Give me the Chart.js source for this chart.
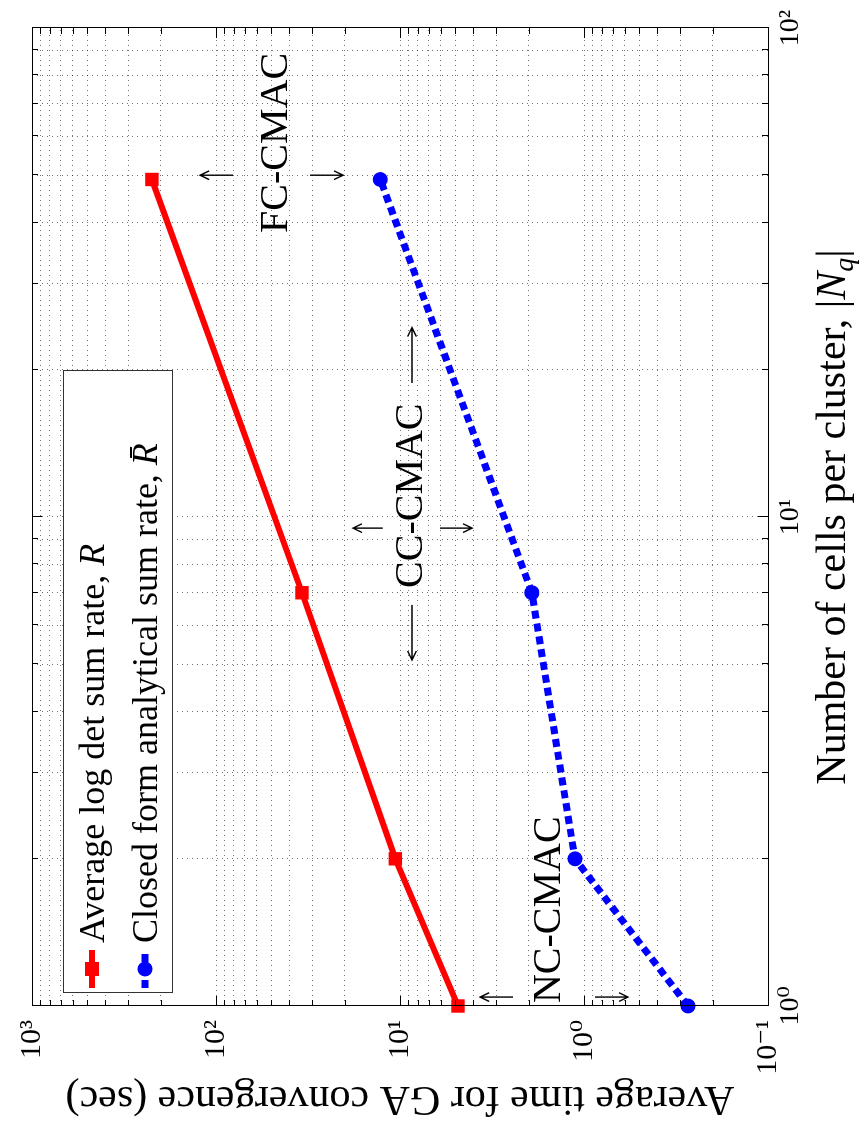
<!DOCTYPE html>
<html><head><meta charset="utf-8">
<script src="https://cdn.jsdelivr.net/npm/chart.js@4.4.1/dist/chart.umd.min.js"></script>
<style>
html,body{margin:0;padding:0;background:#fff;width:864px;height:1123px;overflow:hidden;}
#wrap{position:absolute;left:0;top:0;width:1123px;height:864px;transform-origin:0 0;transform:translate(0,1123px) rotate(-90deg);background:#fff;}
canvas{display:block}
</style></head><body>
<div id="wrap"><canvas id="c" width="1123" height="864"></canvas></div>
<script>
// ---- data ----
const cellsPerCluster = [1, 2, 7, 49];
const logdetTime = [4.84, 10.6, 34.1, 223];
const closedFormTime = [0.272, 1.12, 1.92, 12.8];
const xTickValues = [1,2,3,4,5,6,7,8,9,10,20,30,40,50,60,70,80,90,100];
const yTickValues = [0.1,0.2,0.3,0.4,0.5,0.6,0.7,0.8,0.9,1,2,3,4,5,6,7,8,9,10,20,30,40,50,60,70,80,90,100,200,300,400,500,600,700,800,900,1000];
const xMajorValues = [1, 10, 100];
const xTickLabels = ['10\u2070', '10\u00b9', '10\u00b2'];
const yMajorValues = [0.1, 1, 10, 100, 1000];
const yTickLabels = ['10\u207b\u00b9', '10\u2070', '10\u00b9', '10\u00b2', '10\u00b3'];
const seriesNames = ['Average log det sum rate, R', 'Closed form analytical sum rate, R\u0304'];
const yAxisTitle = 'Average time for GA convergence (sec)';
const xAxisTitleText = 'Number of cells per cluster, ';
const regionNames = ['NC-CMAC', 'CC-CMAC', 'FC-CMAC'];

const SERIF = "'Liberation Serif','DejaVu Serif',serif";
Chart.defaults.font.family = SERIF;
Chart.defaults.color = '#000';

const isMajor = (v, majors) => majors.findIndex(m => Math.abs(m - v) / m < 1e-9);

// annotation anchors in data coordinates
const annotations = [
  { text: regionNames[0], x: 1.014, y: 1.35,
    arrows: [[1.043, 2.43, 1.043, 3.67], [1.043, 0.871, 1.043, 0.577]] },
  { text: regionNames[1], x: 7.16, y: 7.59,
    arrows: [[18.8, 8.61, 24.4, 8.61], [6.61, 8.61, 5.10, 8.61], [9.49, 12.4, 9.49, 18.0], [9.49, 6.06, 9.49, 4.06]] },
  { text: regionNames[2], x: 38.1, y: 41.1,
    arrows: [[50, 80.8, 50, 122], [50, 30.8, 50, 20.4]] }
];

function arrow(ctx, x1, y1, x2, y2) {
  const ang = Math.atan2(y2 - y1, x2 - x1);
  const h = 10, a = 0.45;
  ctx.beginPath();
  ctx.moveTo(x1, y1); ctx.lineTo(x2, y2);
  ctx.moveTo(x2 - h * Math.cos(ang - a), y2 - h * Math.sin(ang - a));
  ctx.lineTo(x2, y2);
  ctx.lineTo(x2 - h * Math.cos(ang + a), y2 - h * Math.sin(ang + a));
  ctx.stroke();
}

function drawRuns(ctx, runs, x, y) {
  let cx = x;
  runs.forEach(r => {
    ctx.font = r.font;
    ctx.fillText(r.text, cx, y + (r.dy || 0));
    cx += ctx.measureText(r.text).width;
  });
  return cx - x;
}

const decorations = {
  id: 'decorations',
  afterDatasetsDraw(chart) {
    const { ctx, chartArea: a, scales: { x, y } } = chart;
    ctx.save();
    // annotations
    ctx.fillStyle = '#000';
    ctx.strokeStyle = '#000';
    ctx.lineWidth = 1.4;
    ctx.textBaseline = 'alphabetic';
    ctx.textAlign = 'left';
    annotations.forEach(an => {
      ctx.font = '40px ' + SERIF;
      ctx.fillText(an.text, x.getPixelForValue(an.x), y.getPixelForValue(an.y));
      an.arrows.forEach(ar => arrow(ctx, x.getPixelForValue(ar[0]), y.getPixelForValue(ar[1]), x.getPixelForValue(ar[2]), y.getPixelForValue(ar[3])));
    });

    // legend box
    const bx = a.left + 13, by = a.top + 31, bw = 622, bh = 109;
    ctx.fillStyle = '#fff';
    ctx.fillRect(bx, by, bw, bh);
    ctx.strokeStyle = '#333';
    ctx.lineWidth = 1;
    ctx.strokeRect(bx + 0.5, by + 0.5, bw, bh);
    const rows = [by + 29, by + 82];
    const ds = chart.data.datasets;
    rows.forEach((ry, i) => {
      const d = ds[i];
      ctx.save();
      ctx.strokeStyle = d.borderColor;
      ctx.lineWidth = d.borderWidth;
      ctx.setLineDash(d.borderDash || []);
      ctx.beginPath(); ctx.moveTo(bx + 5, ry); ctx.lineTo(bx + 43, ry); ctx.stroke();
      ctx.restore();
      ctx.fillStyle = d.backgroundColor;
      if (d.pointStyle === 'rect') {
        ctx.fillRect(bx + 24 - 7, ry - 7, 14, 14);
      } else {
        ctx.beginPath(); ctx.arc(bx + 24, ry, 7.5, 0, Math.PI * 2); ctx.fill();
      }
      ctx.fillStyle = '#000';
      const name = seriesNames[i];
      const base = name.slice(0, name.lastIndexOf(', ') + 2);
      const sym = name.slice(name.lastIndexOf(', ') + 2);
      drawRuns(ctx, [
        { text: base, font: '36px ' + SERIF },
        { text: sym, font: 'italic 36px ' + SERIF }
      ], bx + 50, ry + 12);
    });

    // x axis title with math
    ctx.fillStyle = '#000';
    const runs = [
      { text: xAxisTitleText + '|', font: '42px ' + SERIF },
      { text: 'N', font: 'italic 42px ' + SERIF },
      { text: 'q', font: 'italic 28px ' + SERIF, dy: 8 },
      { text: '|', font: '42px ' + SERIF }
    ];
    let tw = 0;
    runs.forEach(r => { ctx.font = r.font; tw += ctx.measureText(r.text).width; });
    drawRuns(ctx, runs, (a.left + a.right) / 2 - tw / 2, 845);
    ctx.restore();
  },
  afterDraw(chart) {
    const { ctx, chartArea: a, scales: { x, y } } = chart;
    ctx.save();
    ctx.strokeStyle = '#000';
    ctx.lineWidth = 1;
    ctx.beginPath();
    x.ticks.forEach(t => {
      const p = Math.round(x.getPixelForValue(t.value)) + 0.5;
      const len = isMajor(t.value, xMajorValues) >= 0 ? 10 : 6;
      ctx.moveTo(p, a.bottom); ctx.lineTo(p, a.bottom - len);
      ctx.moveTo(p, a.top); ctx.lineTo(p, a.top + len);
    });
    y.ticks.forEach(t => {
      const p = Math.round(y.getPixelForValue(t.value)) + 0.5;
      const len = isMajor(t.value, yMajorValues) >= 0 ? 10 : 6;
      ctx.moveTo(a.left, p); ctx.lineTo(a.left + len, p);
      ctx.moveTo(a.right, p); ctx.lineTo(a.right - len, p);
    });
    ctx.stroke();
    ctx.strokeRect(Math.round(a.left) + 0.5, Math.round(a.top) + 0.5, Math.round(a.right - a.left), Math.round(a.bottom - a.top));
    ctx.restore();
  }
};

new Chart(document.getElementById('c'), {
  type: 'line',
  data: {
    datasets: [
      {
        label: seriesNames[0],
        data: cellsPerCluster.map((c, i) => ({ x: c, y: logdetTime[i] })),
        borderColor: '#ff0000', backgroundColor: '#ff0000',
        borderWidth: 6, pointStyle: 'rect', pointRadius: 9.5, pointBorderWidth: 0,
        tension: 0, clip: false
      },
      {
        label: seriesNames[1],
        data: cellsPerCluster.map((c, i) => ({ x: c, y: closedFormTime[i] })),
        borderColor: '#0000ff', backgroundColor: '#0000ff',
        borderWidth: 7, borderDash: [8, 5], pointStyle: 'circle', pointRadius: 7.5, pointBorderWidth: 0,
        tension: 0, clip: false
      }
    ]
  },
  options: {
    responsive: false,
    animation: false,
    devicePixelRatio: 1,
    layout: { padding: { top: 32, right: 28, left: 0, bottom: 0 } },
    plugins: { legend: { display: false }, tooltip: { enabled: false } },
    scales: {
      x: {
        type: 'logarithmic', position: 'bottom', min: 1, max: 100,
        afterBuildTicks: s => { s.ticks = xTickValues.map(v => ({ value: v })); },
        afterFit: s => { s.height = 96; },
        ticks: {
          autoSkip: false, maxRotation: 0, padding: 6,
          font: { size: 28 },
          callback: v => { const i = isMajor(v, xMajorValues); return i >= 0 ? xTickLabels[i] : ''; }
        },
        grid: { color: 'rgba(0,0,0,0.55)', lineWidth: 1, drawTicks: false },
        border: { display: false, dash: [1, 4] }
      },
      y: {
        type: 'logarithmic', position: 'left', min: 0.1, max: 1000,
        afterBuildTicks: s => { s.ticks = yTickValues.map(v => ({ value: v })); },
        afterFit: s => { s.width = 117; },
        ticks: {
          autoSkip: false, padding: 14,
          font: { size: 30 },
          callback: v => { const i = isMajor(v, yMajorValues); return i >= 0 ? yTickLabels[i] : ''; }
        },
        title: { display: true, text: yAxisTitle, font: { size: 42 }, padding: { top: 0, bottom: 0 } },
        grid: { color: 'rgba(0,0,0,0.55)', lineWidth: 1, drawTicks: false },
        border: { display: false, dash: [1, 4] }
      }
    }
  },
  plugins: [decorations]
});
</script>
</body></html>
